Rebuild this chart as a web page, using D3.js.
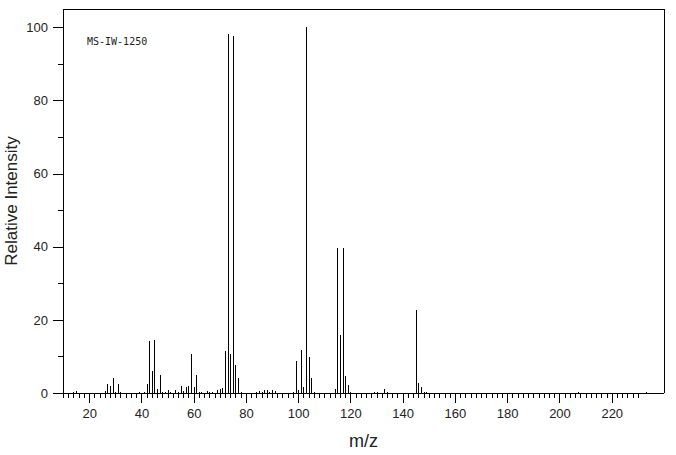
<!DOCTYPE html>
<html>
<head>
<meta charset="utf-8">
<script src="https://cdn.jsdelivr.net/npm/d3@7"></script>
<style>
  html, body { margin: 0; padding: 0; background: #fff; }
  svg { display: block; }
</style>
</head>
<body>
<svg id="chart"></svg>
<script>
// m/z values and relative intensities
const mz = [14, 15, 26, 27, 28, 29, 30, 31, 32, 39, 41, 42, 43, 44, 45, 46, 47, 48, 49, 50,
  51, 53, 54, 55, 56, 57, 58, 59, 60, 61, 62, 63, 65, 66, 67, 69, 70, 71, 72, 73,
  74, 75, 76, 77, 78, 84, 85, 86, 87, 88, 89, 90, 91, 98, 99, 100, 101, 102, 103, 104,
  105, 106, 114, 115, 116, 117, 118, 119, 120, 129, 130, 133, 134, 145, 146, 147, 148, 149, 207, 233]
const intensity = [0.3, 0.6, 0.5, 2.5, 1.9, 4.2, 0.3, 2.5, 0.3, 0.4, 0.3, 2.5, 14.2, 6.0, 14.5, 1.1, 4.9, 0.4, 0.3, 0.8,
  0.3, 0.7, 0.3, 1.9, 0.5, 1.6, 1.9, 10.7, 1.6, 4.9, 0.3, 0.3, 0.5, 0.3, 0.3, 0.8, 1.1, 1.4, 11.5, 98.2,
  10.7, 97.6, 7.7, 4.1, 0.3, 0.3, 0.5, 0.3, 0.8, 0.8, 0.3, 0.8, 0.5, 0.3, 8.7, 0.7, 11.8, 1.6, 100, 9.8,
  4.1, 0.3, 1.1, 39.6, 15.9, 39.6, 4.6, 2.2, 0.3, 0.3, 0.3, 1.1, 0.3, 22.7, 2.7, 1.6, 0.3, 0.3, 0.3, 0.3]

const xMajor = [20, 40, 60, 80, 100, 120, 140, 160, 180, 200, 220]
const yMajor = [0, 20, 40, 60, 80, 100]
const yMinor = [10, 30, 50, 70, 90]
const specId = 'MS-IW-1250'

const width = 676
const height = 455
const marginTop = 9
const marginRight = 12
const marginBottom = 62
const marginLeft = 63
const txtColor = '#222'

const xScale = d3.scaleLinear([10, 240], [marginLeft, width - marginRight])
const yScale = d3.scaleLinear([0, 105], [height - marginBottom, marginTop])

const svg = d3.select('#chart')
    .attr('width', width)
    .attr('height', height)
    .attr('viewBox', [0, 0, width, height])

// frame: top, left, right
svg.append('path')
    .attr('fill', 'none')
    .attr('stroke', '#000')
    .attr('shape-rendering', 'crispEdges')
    .attr('d', `M${marginLeft},${height - marginBottom}V${marginTop}H${width - marginRight}V${height - marginBottom}`)

// x axis: minor every 2, major every 20
const xAxisMinor = d3.axisBottom(xScale)
    .tickValues(d3.range(10, 231, 2).filter(v => v % 20 !== 0))
    .tickSize(5).tickFormat('').tickSizeOuter(0)
const xAxis = d3.axisBottom(xScale)
    .tickValues(xMajor).tickSize(10).tickPadding(6).tickSizeOuter(0)

svg.append('g')
    .attr('transform', `translate(0,${height - marginBottom})`)
    .call(xAxisMinor)
    .call(g => g.select('.domain').remove())
    .attr('shape-rendering', 'crispEdges')

svg.append('g')
    .attr('transform', `translate(0,${height - marginBottom})`)
    .call(xAxis)
    .attr('shape-rendering', 'crispEdges')
    .call(g => g.select('.domain').attr('d', `M${marginLeft - 10},0.5H${width - marginRight}`))
    .call(g => g.selectAll('text')
        .attr('fill', txtColor)
        .attr('font-family', 'Liberation Sans, Arial, sans-serif')
        .attr('font-size', 13))

// y axis
const yAxisMinor = d3.axisLeft(yScale).tickValues(yMinor).tickSize(5).tickFormat('').tickSizeOuter(0)
const yAxis = d3.axisLeft(yScale).tickValues(yMajor).tickSize(10).tickPadding(5).tickSizeOuter(0)

svg.append('g')
    .attr('transform', `translate(${marginLeft},0)`)
    .call(yAxisMinor)
    .call(g => g.select('.domain').remove())
    .attr('shape-rendering', 'crispEdges')

svg.append('g')
    .attr('transform', `translate(${marginLeft},0)`)
    .call(yAxis)
    .call(g => g.select('.domain').remove())
    .attr('shape-rendering', 'crispEdges')
    .call(g => g.selectAll('text')
        .attr('fill', txtColor)
        .attr('font-family', 'Liberation Sans, Arial, sans-serif')
        .attr('font-size', 13))

// sticks
svg.append('g')
    .attr('stroke', '#000')
    .attr('stroke-width', 1)
    .attr('shape-rendering', 'crispEdges')
  .selectAll('line')
  .data(d3.range(mz.length))
  .join('line')
    .attr('x1', i => Math.round(xScale(mz[i])) + 0.5)
    .attr('x2', i => Math.round(xScale(mz[i])) + 0.5)
    .attr('y1', yScale(0))
    .attr('y2', i => yScale(intensity[i]))

// labels
svg.append('text')
    .attr('x', 87)
    .attr('y', 45)
    .attr('fill', txtColor)
    .attr('font-family', 'DejaVu Sans Mono, monospace')
    .attr('font-size', 10)
    .text(specId)

svg.append('text')
    .attr('transform', `translate(17,${(marginTop + height - marginBottom) / 2}) rotate(-90)`)
    .attr('text-anchor', 'middle')
    .attr('fill', txtColor)
    .attr('font-family', 'Liberation Sans, Arial, sans-serif')
    .attr('font-size', 17)
    .text('Relative Intensity')

svg.append('text')
    .attr('x', (marginLeft + width - marginRight) / 2)
    .attr('y', 447)
    .attr('text-anchor', 'middle')
    .attr('fill', txtColor)
    .attr('font-family', 'Liberation Sans, Arial, sans-serif')
    .attr('font-size', 18)
    .text('m/z')
</script>
</body>
</html>
